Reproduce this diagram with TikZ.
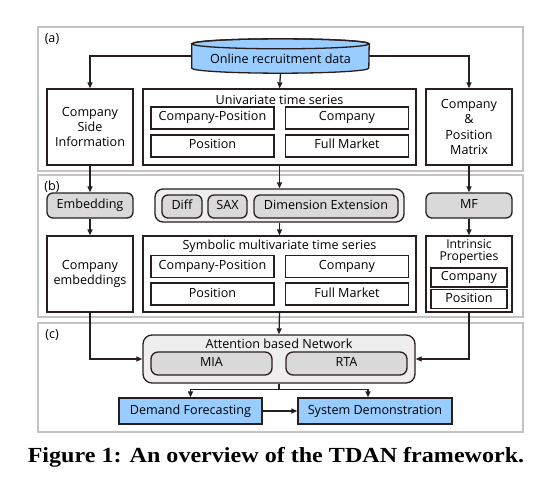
\documentclass[tikz,border=0pt]{standalone}
\usepackage{fontspec}
\setmainfont{Open Sans}
\newfontfamily\captionfont{Liberation Serif}
\usetikzlibrary{arrows.meta}
\definecolor{datablue}{RGB}{153,204,255}
\definecolor{procgray}{RGB}{217,217,217}
\definecolor{groupgray}{RGB}{238,238,238}
\definecolor{panelgray}{RGB}{195,195,195}
\definecolor{linedark}{RGB}{40,30,30}
\begin{document}
\begin{tikzpicture}
[x=1pt,y=1pt,font=\fontsize{12.6}{15}\selectfont,
  paneldecorate/.style={draw=panelgray,line width=1.8pt},
  boxdecorate/.style={draw=linedark,line width=1.3pt,fill=white,align=center,inner sep=0pt},
  celldecorate/.style={boxdecorate,minimum width=123pt,minimum height=22pt,text height=9pt,text depth=3pt},
  procdecorate/.style={boxdecorate,rounded corners=6pt,fill=procgray,minimum height=25pt,text height=9pt,text depth=3pt},
  outdecorate/.style={boxdecorate,fill=datablue,minimum height=26pt,text height=9pt,text depth=3pt},
  linedecorate/.style={-{Triangle[length=6pt,width=5pt]},line width=1.3pt,draw=linedark}]
\useasboundingbox (0,0) rectangle (556,-481);
%% panels
\foreach \panelname/\top/\bottom in {a/27/171, b/175/317, c/323/432} {
  \draw[paneldecorate] (38,-\top) rectangle (523,-\bottom);
  \node at (52,-\top-12) {(\panelname)};
}
%% data source
\node (data) at (280.5,-56) [minimum width=177pt,minimum height=34pt,inner sep=0pt] {};
\draw[line width=1.3pt,draw=linedark,fill=datablue]
  ([yshift=-5pt]data.north west) -- ([yshift=5pt]data.south west)
  arc[start angle=180,end angle=360,x radius=88.5pt,y radius=5pt]
  -- ([yshift=-5pt]data.north east)
  arc[start angle=0,end angle=180,x radius=88.5pt,y radius=5pt] -- cycle;
\draw[line width=1.3pt,draw=linedark] ([yshift=-5pt]data.north) ellipse[x radius=88.5pt,y radius=5pt];
\node at (280.5,-59) {Online recruitment data};
%% big boxes
\foreach \nodename/\x/\y/\w/\txt in {side/90/127/86/{Company\\Side\\Information},
  uni/279.5/127/273/{}, mat/469/127/86/{Company\\\&\\Position\\Matrix},
  cemb/90/274/86/{Company\\embeddings}, sym/279.5/274/273/{}, ip/469/274/86/{}} {
  \node (\nodename) at (\x,-\y) [boxdecorate,minimum width=\w pt,minimum height=76pt] {\txt};
}
\node at (279.5,-99.5) {Univariate time series};
\node at (279.5,-246.5) {Symbolic multivariate time series};
\node at (469,-251.5) [align=center,font=\fontsize{12.2}{11.8}\selectfont] {Intrinsic\\Properties};
%% cells
\foreach \nodename/\x/\y/\txt in {ucp/212.5/118/Company-Position, uc/347/118/Company,
  up/212.5/146/Position, um/347/146/Full Market, scp/212.5/266.5/Company-Position,
  sc/347/266.5/Company, sp/212.5/294/Position, sm/347/294/Full Market} {
  \node (\nodename) at (\x,-\y) [celldecorate] {\txt};
}
\node (ipc) at (469,-277.5) [celldecorate,minimum width=76pt,minimum height=19pt] {Company};
\node (ipp) at (469,-299) [celldecorate,minimum width=76pt,minimum height=19pt] {Position};
%% processing steps
\node (grp) at (279.5,-205.5) [boxdecorate,rounded corners=8pt,fill=groupgray,minimum width=249pt,minimum height=33pt] {};
\foreach \nodename/\x/\y/\w/\h/\txt in {emb/90/205.5/86/25/Embedding, mf/469/205.5/86/25/MF,
  diff/182/206.5/40/23/Diff, sax/227.5/206.5/39/23/SAX, dim/326/206.5/144/23/Dimension Extension} {
  \node (\nodename) at (\x,-\y) [procdecorate,minimum width=\w pt,minimum height=\h pt] {\txt};
}
%% network
\node (att) at (279,-359) [boxdecorate,rounded corners=9pt,fill=groupgray,minimum width=272pt,minimum height=48pt] {};
\node at (279,-344) {Attention based Network};
\node (mia) at (211.5,-363.5) [procdecorate,minimum width=121pt,minimum height=23pt,rounded corners=7pt] {MIA};
\node (rta) at (346.5,-363.5) [procdecorate,minimum width=121pt,minimum height=23pt,rounded corners=7pt] {RTA};
\node (df) at (190.5,-411) [outdecorate,minimum width=143pt] {Demand Forecasting};
\node (sd) at (375,-411) [outdecorate,minimum width=154pt] {System Demonstration};
%% caption
\node (cap) at (276,-457) {\scalebox{1.12}[1]{\captionfont\bfseries\fontsize{21.5}{24}\selectfont Figure 1: An overview of the TDAN framework.}};
%% edges
\path
\foreach \startnode/\endnode in {data/uni, side/emb, uni/grp, mat/mf, emb/cemb,
  grp/sym, mf/ip, sym/att} {
  (\startnode.south) edge[linedecorate] (\endnode.north)
};
\draw[linedecorate] (data.west) -| (side.north);
\draw[linedecorate] (data.east) -| (mat.north);
\draw[linedecorate] (cemb.south) |- (att.west);
\draw[linedecorate] (ip.south) |- (att.east);
\draw[line width=1.3pt,draw=linedark] (att.south) -- ++(0,-6) coordinate (split);
\draw[linedecorate] (split) -| (df.north);
\draw[linedecorate] (split) -| ([xshift=-7pt]sd.north);
\draw[linedecorate] (df.east) -- (sd.west);
\end{tikzpicture}
\end{document}
